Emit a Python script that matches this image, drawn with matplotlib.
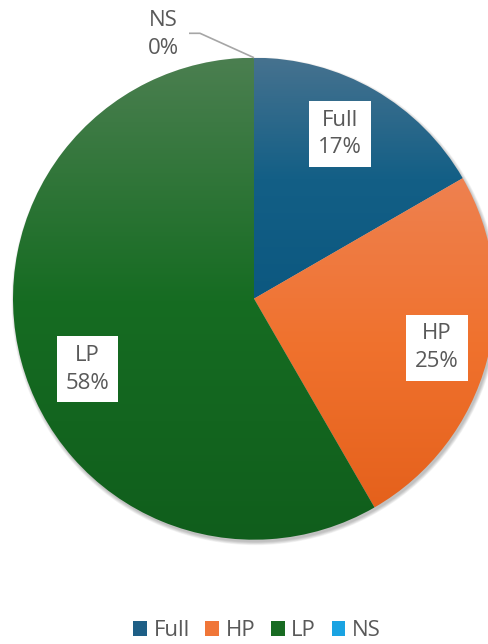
import numpy as np
import matplotlib
matplotlib.use("Agg")
import matplotlib.pyplot as plt
from matplotlib.colors import LinearSegmentedColormap
from matplotlib.patches import Patch, Circle

plt.rcParams['font.family'] = ['Open Sans', 'DejaVu Sans']

labels = ['Full', 'HP', 'LP', 'NS']
counts = [2, 3, 7, 0]
# gradient stops (top -> bottom) for each slice
stops = [['#46728f', '#135f86', '#0c5880'],
         ['#ee8150', '#f0722e', '#e5611c'],
         ['#4b7f50', '#166c22', '#105e1c'],
         ['#4fb8ea', '#1aa3e2', '#0e98d8']]
legend_colors = ['#1e5f86', '#f07638', '#186b22', '#1aa3e2']
text_grey = '#595959'

W, H = 489, 644
cx, cy, R = 254, H - 298.7, 241

fig = plt.figure(figsize=(W / 100, H / 100), dpi=100)
ax = fig.add_axes([0, 0, 1, 1])

# soft drop shadow under the pie
for i in range(6):
    ax.add_patch(Circle((cx + 1.5, cy - 2.5), R + 0.6 * i, color='#000000',
                        alpha=0.045, lw=0, zorder=0))

wedges, _ = ax.pie(counts, startangle=90, counterclock=False,
                   center=(cx, cy), radius=R, normalize=True,
                   wedgeprops=dict(linewidth=0))
ax.set_aspect('equal')
ax.axis('off')

grad = np.linspace(0, 1, 256).reshape(-1, 1)
for w, cs in zip(wedges, stops):
    verts = w.get_patch_transform().transform(w.get_path().vertices)
    if np.ptp(verts[:, 0]) < 1e-6 or np.ptp(verts[:, 1]) < 1e-6:
        continue
    cmap = LinearSegmentedColormap.from_list('g', list(zip([0, 0.5, 1], cs)))
    im = ax.imshow(grad, cmap=cmap, aspect='auto', origin='upper',
                   extent=[verts[:, 0].min(), verts[:, 0].max(),
                           verts[:, 1].min(), verts[:, 1].max()],
                   zorder=2)
    im.set_clip_path(w)
    w.set_facecolor('none')
ax.set_xlim(0, W)
ax.set_ylim(0, H)

total = sum(counts)
pcts = [round(100 * v / total) for v in counts]

# inside labels: radius fraction and angle nudge per slice
label_r = [0.77, 0.785, 0.75]
label_nudge = [2.5, 0, 8]
for w, lab, p, rf, dn in zip(wedges[:3], labels[:3], pcts[:3], label_r, label_nudge):
    mid = np.deg2rad((w.theta1 + w.theta2) / 2 + dn)
    x = cx + rf * R * np.cos(mid)
    y = cy + rf * R * np.sin(mid)
    ax.text(x, y, f'{lab}\n{p}%', ha='center', va='center', fontsize=16,
            color=text_grey, linespacing=1.4, zorder=5,
            bbox=dict(boxstyle='square,pad=0.4', fc='white', ec='none'))

# zero slice sits at the top, label pulled out with a leader line
ns = wedges[3]
tip = (cx + R * np.cos(np.deg2rad(ns.theta1)), cy + R * np.sin(np.deg2rad(ns.theta1)))
ax.text(163, H - 34.5, f'{labels[3]}\n{pcts[3]}%', ha='center', va='center',
        fontsize=16, color=text_grey, linespacing=1.4, zorder=5)
ax.plot([189, 200, tip[0]], [H - 33.3, H - 33.3, tip[1]], color='#a6a6a6',
        lw=1.2, zorder=4, solid_capstyle='butt')

handles = [Patch(facecolor=c, edgecolor='none', label=l)
           for c, l in zip(legend_colors, labels)]
fig.legend(handles=handles, loc='center', bbox_to_anchor=(257 / W, 1 - 631 / H),
           ncol=4, frameon=False, fontsize=16, handlelength=0.62,
           handleheight=0.62, handletextpad=0.3, columnspacing=0.7,
           labelcolor=text_grey, borderaxespad=0)

fig.savefig('out.png', dpi=100, facecolor='white')
